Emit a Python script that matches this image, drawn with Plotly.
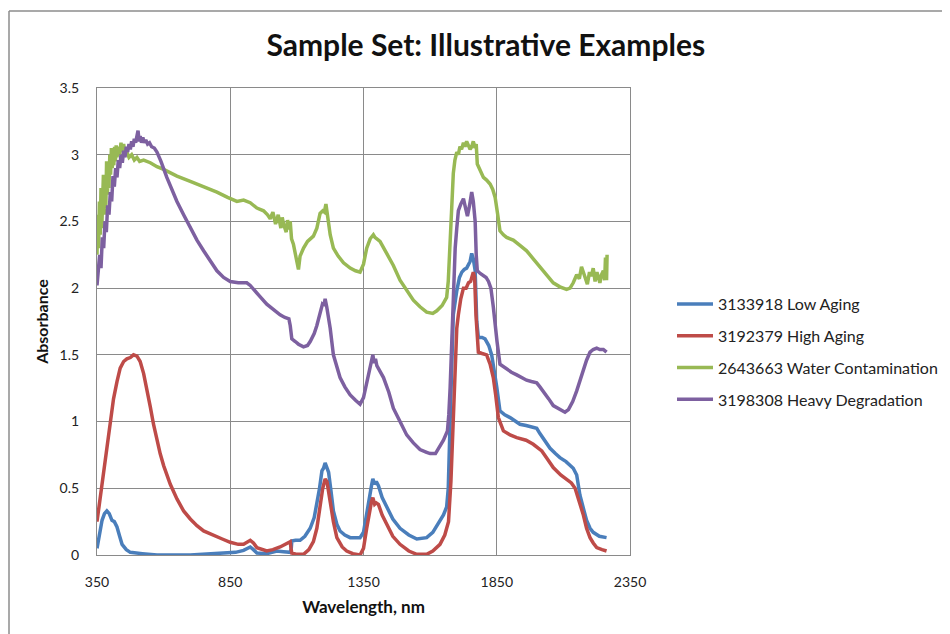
import plotly.graph_objects as go

# ---------------- data ----------------
low_x = [350, 360, 369, 378, 387, 396, 406, 415, 425, 435, 444, 460, 475, 520, 575, 700, 825, 870, 900, 915, 925, 937, 950, 987, 1025, 1050, 1075, 1079, 1081, 1095, 1112, 1130, 1150, 1165, 1175, 1185, 1194, 1200, 1206, 1212, 1219, 1228, 1237, 1250, 1262, 1280, 1300, 1320, 1337, 1350, 1362, 1372, 1380, 1385, 1392, 1398, 1406, 1420, 1437, 1460, 1487, 1520, 1550, 1587, 1610, 1637, 1650, 1662, 1668, 1675, 1681, 1687, 1700, 1710, 1719, 1728, 1737, 1745, 1750, 1756, 1762, 1769, 1775, 1781, 1795, 1806, 1820, 1831, 1840, 1850, 1862, 1880, 1900, 1920, 1937, 1960, 1987, 2000, 2012, 2030, 2050, 2070, 2087, 2110, 2137, 2150, 2162, 2175, 2187, 2200, 2212, 2235, 2262]
low_y = [0.05, 0.17, 0.26, 0.31, 0.33, 0.31, 0.26, 0.25, 0.21, 0.14, 0.08, 0.04, 0.02, 0.01, 0.0, 0.0, 0.01, 0.02, 0.035, 0.05, 0.06, 0.04, 0.015, 0.01, 0.03, 0.025, 0.02, 0.05, 0.105, 0.11, 0.11, 0.14, 0.2, 0.28, 0.38, 0.5, 0.63, 0.65, 0.69, 0.66, 0.62, 0.48, 0.33, 0.23, 0.18, 0.15, 0.13, 0.13, 0.13, 0.17, 0.32, 0.46, 0.52, 0.57, 0.53, 0.55, 0.52, 0.43, 0.36, 0.27, 0.2, 0.15, 0.12, 0.13, 0.17, 0.25, 0.3, 0.36, 0.5, 1.0, 1.5, 1.8, 1.98, 2.08, 2.12, 2.14, 2.15, 2.18, 2.2, 2.26, 2.22, 2.13, 1.75, 1.63, 1.63, 1.62, 1.57, 1.5, 1.4, 1.26, 1.08, 1.05, 1.03, 1.0, 0.98, 0.97, 0.955, 0.95, 0.91, 0.86, 0.8, 0.76, 0.73, 0.7, 0.65, 0.6, 0.45, 0.35, 0.26, 0.2, 0.17, 0.14, 0.13]

high_x = [350, 362, 375, 387, 400, 412, 425, 437, 450, 462, 475, 487, 500, 512, 525, 537, 550, 562, 575, 587, 600, 625, 650, 675, 700, 725, 750, 787, 820, 850, 880, 900, 915, 925, 937, 950, 987, 1010, 1037, 1060, 1075, 1078, 1081, 1100, 1125, 1145, 1162, 1175, 1187, 1197, 1206, 1213, 1225, 1237, 1250, 1270, 1287, 1310, 1337, 1350, 1362, 1372, 1380, 1385, 1392, 1398, 1406, 1420, 1437, 1460, 1487, 1520, 1550, 1587, 1610, 1637, 1655, 1669, 1678, 1687, 1694, 1700, 1706, 1715, 1725, 1735, 1744, 1752, 1762, 1767, 1772, 1781, 1795, 1812, 1825, 1837, 1846, 1856, 1875, 1900, 1925, 1960, 1987, 2019, 2040, 2062, 2090, 2112, 2130, 2144, 2160, 2175, 2187, 2200, 2212, 2225, 2245, 2262]
high_y = [0.25, 0.43, 0.63, 0.84, 1.0, 1.17, 1.3, 1.4, 1.45, 1.47, 1.48, 1.5, 1.49, 1.45, 1.36, 1.25, 1.11, 0.98, 0.86, 0.76, 0.67, 0.53, 0.42, 0.33, 0.27, 0.22, 0.18, 0.145, 0.12, 0.095, 0.08, 0.08, 0.1, 0.11, 0.09, 0.055, 0.03, 0.04, 0.06, 0.08, 0.1, 0.05, 0.015, 0.005, 0.005, 0.04, 0.1, 0.2, 0.38, 0.5, 0.57, 0.55, 0.4, 0.25, 0.13, 0.06, 0.03, 0.01, 0.0, 0.05, 0.2, 0.33, 0.4, 0.43, 0.38, 0.39, 0.38, 0.3, 0.23, 0.14, 0.08, 0.03, 0.005, 0.005, 0.03, 0.08, 0.15, 0.25, 0.55, 1.0, 1.45, 1.7, 1.8, 1.92, 2.0, 2.0, 2.04, 2.05, 2.12, 2.08, 1.8, 1.52, 1.51, 1.5, 1.43, 1.33, 1.2, 1.03, 0.93, 0.9, 0.88, 0.86, 0.83, 0.78, 0.72, 0.655, 0.6, 0.57, 0.54, 0.5, 0.4, 0.3, 0.2, 0.13, 0.09, 0.055, 0.04, 0.03]

water_x = [350, 353, 356, 359, 362, 365, 368, 371, 374, 377, 380, 383, 386, 389, 392, 395, 398, 401, 404, 407, 410, 413, 416, 419, 422, 425, 430, 435, 440, 445, 450, 455, 460, 470, 480, 490, 500, 510, 525, 550, 575, 600, 650, 700, 750, 800, 840, 860, 875, 900, 925, 950, 975, 990, 1000, 1010, 1020, 1030, 1040, 1045, 1050, 1060, 1065, 1070, 1075, 1080, 1087, 1095, 1100, 1106, 1112, 1125, 1140, 1162, 1175, 1187, 1197, 1203, 1209, 1215, 1225, 1237, 1255, 1275, 1300, 1320, 1337, 1350, 1362, 1375, 1387, 1393, 1400, 1412, 1437, 1462, 1487, 1512, 1537, 1562, 1587, 1610, 1625, 1645, 1662, 1668, 1675, 1681, 1687, 1693, 1700, 1706, 1712, 1718, 1725, 1731, 1737, 1744, 1750, 1756, 1762, 1769, 1773, 1777, 1788, 1800, 1812, 1825, 1835, 1844, 1853, 1862, 1875, 1887, 1900, 1912, 1937, 1962, 1987, 2012, 2037, 2062, 2087, 2112, 2125, 2137, 2150, 2160, 2168, 2175, 2182, 2190, 2198, 2205, 2212, 2219, 2226, 2232, 2237, 2243, 2250, 2255, 2258, 2262, 2264]
water_y = [2.25, 2.55, 2.3, 2.65, 2.4, 2.75, 2.45, 2.6, 2.85, 2.55, 2.8, 2.6, 2.95, 2.7, 2.9, 2.75, 3.0, 2.85, 3.05, 2.9, 3.02, 2.92, 3.06, 2.95, 3.07, 2.98, 3.06, 3.0, 3.09, 3.02, 3.08, 3.0, 3.03, 2.98, 3.0, 2.96, 2.98, 2.95, 2.96, 2.94, 2.91, 2.89, 2.84, 2.8, 2.76, 2.72, 2.68, 2.66, 2.65, 2.66, 2.64, 2.6, 2.58, 2.55, 2.52, 2.57, 2.48, 2.55, 2.45, 2.53, 2.48, 2.42, 2.51, 2.44, 2.5, 2.37, 2.33, 2.25, 2.2, 2.14, 2.24, 2.3, 2.35, 2.39, 2.45, 2.56, 2.58, 2.57, 2.63, 2.55, 2.4, 2.3, 2.24, 2.19, 2.15, 2.13, 2.12, 2.18, 2.3, 2.37, 2.4, 2.38, 2.37, 2.35, 2.26, 2.17, 2.06, 1.98, 1.91, 1.86, 1.82, 1.81, 1.83, 1.87, 1.93, 2.05, 2.3, 2.6, 2.86, 2.96, 3.02, 3.0, 3.06, 3.04, 3.09, 3.06, 3.1, 3.07, 3.04, 3.06, 3.1, 3.05, 3.08, 2.93, 2.88, 2.83, 2.81, 2.78, 2.74, 2.68, 2.56, 2.43, 2.4, 2.38, 2.37, 2.36, 2.32, 2.28, 2.22, 2.16, 2.1, 2.04, 2.01, 1.99, 2.0, 2.04, 2.1, 2.07, 2.16, 2.12, 2.07, 2.03, 2.12, 2.09, 2.15, 2.05, 2.12, 2.07, 2.04, 2.1, 2.13, 2.06, 2.23, 2.06, 2.25, 2.05]

heavy_x = [350, 355, 360, 365, 370, 375, 380, 385, 390, 395, 400, 405, 410, 415, 420, 425, 430, 435, 440, 445, 450, 455, 460, 465, 470, 475, 480, 485, 490, 495, 500, 504, 508, 512, 517, 522, 527, 533, 540, 547, 555, 565, 575, 590, 612, 630, 650, 675, 700, 725, 750, 775, 800, 825, 850, 880, 912, 925, 937, 960, 987, 1010, 1037, 1055, 1070, 1075, 1078, 1081, 1094, 1106, 1125, 1140, 1150, 1165, 1175, 1187, 1196, 1202, 1206, 1212, 1218, 1225, 1237, 1250, 1262, 1280, 1300, 1320, 1337, 1350, 1362, 1372, 1380, 1385, 1390, 1395, 1400, 1412, 1425, 1445, 1462, 1487, 1512, 1537, 1562, 1587, 1600, 1620, 1637, 1650, 1665, 1670, 1675, 1681, 1687, 1694, 1700, 1706, 1715, 1725, 1733, 1740, 1748, 1756, 1762, 1769, 1773, 1777, 1788, 1800, 1810, 1819, 1828, 1837, 1845, 1851, 1862, 1875, 1887, 1905, 1925, 1945, 1962, 1980, 2000, 2012, 2025, 2045, 2062, 2080, 2094, 2106, 2119, 2135, 2150, 2165, 2180, 2187, 2200, 2212, 2225, 2237, 2250, 2262]
heavy_y = [2.02, 2.12, 2.25, 2.15, 2.38, 2.3, 2.5, 2.42, 2.62, 2.55, 2.72, 2.65, 2.84, 2.76, 2.9, 2.83, 2.96, 2.9, 3.0, 2.94, 3.03, 2.98, 3.06, 3.02, 3.08, 3.04, 3.1, 3.06, 3.12, 3.09, 3.14, 3.18, 3.1, 3.14, 3.09, 3.13, 3.09, 3.11, 3.08, 3.09, 3.06, 3.05, 3.02, 2.95, 2.83, 2.74, 2.65, 2.55, 2.45, 2.36, 2.28, 2.2, 2.13, 2.08, 2.05, 2.04, 2.04, 2.02, 1.99, 1.94, 1.88, 1.84, 1.8, 1.78, 1.77, 1.72, 1.66, 1.62, 1.6, 1.58, 1.56, 1.57, 1.6, 1.66, 1.72, 1.82, 1.88, 1.87, 1.92, 1.86, 1.8, 1.7, 1.5, 1.4, 1.33, 1.26, 1.2, 1.16, 1.13, 1.18, 1.3, 1.4, 1.45, 1.5, 1.44, 1.47, 1.42, 1.38, 1.33, 1.22, 1.1, 1.0, 0.9, 0.84, 0.79, 0.77, 0.76, 0.76, 0.82, 0.86, 0.93, 1.05, 1.25, 1.6, 2.0, 2.3, 2.45, 2.58, 2.63, 2.67, 2.6, 2.54, 2.62, 2.72, 2.65, 2.5, 2.25, 2.13, 2.11, 2.09, 2.08, 2.05, 2.0, 1.86, 1.7, 1.6, 1.43, 1.41, 1.39, 1.37, 1.35, 1.33, 1.31, 1.3, 1.29, 1.26, 1.22, 1.17, 1.12, 1.1, 1.08, 1.07, 1.09, 1.15, 1.23, 1.33, 1.42, 1.46, 1.52, 1.54, 1.55, 1.54, 1.54, 1.52]

series_names = ["3133918 Low Aging", "3192379 High Aging", "2643663 Water Contamination", "3198308 Heavy Degradation"]
series_colors = ["#4A7EBB", "#BE4B48", "#98B954", "#7D60A0"]
series_x = [low_x, high_x, water_x, heavy_x]
series_y = [low_y, high_y, water_y, heavy_y]

x_ticks = [350, 850, 1350, 1850, 2350]
y_ticks = [0, 0.5, 1, 1.5, 2, 2.5, 3, 3.5]

FONT = "Lato, 'Noto Sans', sans-serif"

fig = go.Figure()
for name, color, xs, ys in zip(series_names, series_colors, series_x, series_y):
    fig.add_trace(go.Scatter(x=xs, y=ys, mode="lines", name=name, legendgroup=name,
                             line=dict(color=color, width=3.5)))

# frame of the chart area (top and left edges visible)
L, T, PW, PH = 89, 80, 533, 467
fx0 = (1 - L) / PW
fy0 = (PH + T - 3) / PH
fig.add_shape(type="line", xref="paper", yref="paper", x0=fx0, x1=1.7, y0=fy0, y1=fy0,
              line=dict(color="#8c8c8c", width=1.5))
fig.add_shape(type="line", xref="paper", yref="paper", x0=fx0, x1=fx0, y0=-0.3, y1=fy0,
              line=dict(color="#8c8c8c", width=1.5))

fig.update_layout(
    width=950, height=634,
    margin=dict(l=L, r=950 - L - PW, t=T, b=634 - T - PH),
    paper_bgcolor="white", plot_bgcolor="white",
    font=dict(family=FONT, size=14, color="#222"),
    title=dict(text="<b>Sample Set: Illustrative Examples</b>", x=0.503, xref="container", xanchor="center",
               y=1 - 37 / 634, yref="container", yanchor="middle",
               font=dict(family=FONT, size=30, color="#111")),
    showlegend=True,
    legend=dict(x=(664 - L) / PW, xanchor="left", y=(T + PH - 279) / PH, yanchor="top", tracegroupgap=8,
                traceorder="grouped", font=dict(family=FONT, size=16, color="#222"),
                bgcolor="rgba(0,0,0,0)", itemwidth=36),
    xaxis=dict(range=[350, 2350], tickvals=x_ticks, ticktext=[str(v) for v in x_ticks],
               showgrid=True, gridcolor="#8a8a8a", gridwidth=1.2, zeroline=False,
               showline=True, linecolor="#8a8a8a", linewidth=1.2, mirror=True,
               ticks="", ticklabelstandoff=14, tickfont=dict(size=14),
               title=dict(text="<b>Wavelength, nm</b>", standoff=12, font=dict(family=FONT, size=17, color="#111"))),
    yaxis=dict(range=[0, 3.5], tickvals=y_ticks, ticktext=["0", "0.5", "1", "1.5", "2", "2.5", "3", "3.5"],
               showgrid=True, gridcolor="#8a8a8a", gridwidth=1.2, zeroline=False,
               showline=True, linecolor="#8a8a8a", linewidth=1.2, mirror=True,
               ticks="", ticklabelstandoff=14, tickfont=dict(size=14),
               title=dict(text="<b>Absorbance</b>", standoff=6, font=dict(family=FONT, size=16, color="#111"))),
)

fig.write_html("out.html")
